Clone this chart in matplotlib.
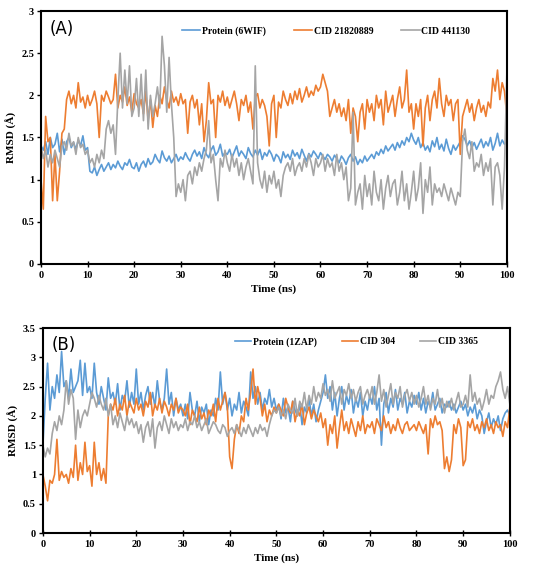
import numpy as np
import matplotlib.pyplot as plt

# time axis, 0.5 ns steps
time_ns = np.arange(0, 100.5, 0.5)

# Panel A
prot_6wif = [
    1.40, 1.35, 1.45, 1.30, 1.50, 1.38, 1.42, 1.55, 1.33, 1.48, 1.30, 1.45, 1.50, 1.38, 1.44, 1.36, 1.47, 1.40, 1.52, 1.35,
    1.38, 1.10, 1.08, 1.15, 1.05, 1.12, 1.18, 1.10, 1.15, 1.20, 1.12, 1.18, 1.14, 1.22, 1.16, 1.12, 1.20, 1.17, 1.24, 1.15,
    1.13, 1.20, 1.10, 1.18, 1.22, 1.15, 1.25, 1.18, 1.21, 1.30, 1.24, 1.20, 1.34, 1.26, 1.22, 1.28, 1.20, 1.25, 1.30, 1.22,
    1.27, 1.24, 1.32, 1.26, 1.22, 1.30, 1.35, 1.28, 1.33, 1.25, 1.38, 1.30, 1.26, 1.35, 1.40, 1.29, 1.33, 1.42, 1.28, 1.32,
    1.30, 1.36, 1.26, 1.33, 1.40, 1.28, 1.34, 1.30, 1.25, 1.38, 1.31, 1.27, 1.35, 1.29, 1.36, 1.24, 1.32, 1.28, 1.35, 1.30,
    1.22, 1.30, 1.27, 1.20, 1.33, 1.26, 1.30, 1.24, 1.35, 1.28, 1.32, 1.25, 1.36, 1.29, 1.22, 1.31, 1.27, 1.34, 1.30, 1.25,
    1.32, 1.28, 1.24, 1.30, 1.27, 1.22, 1.29, 1.25, 1.20, 1.28, 1.24, 1.18, 1.26, 1.30, 1.22, 1.27, 1.18, 1.24, 1.20, 1.28,
    1.22, 1.26, 1.30, 1.25, 1.33, 1.29, 1.36, 1.31, 1.40, 1.34, 1.38, 1.42, 1.35, 1.44, 1.38, 1.46, 1.41, 1.50, 1.45, 1.55,
    1.47, 1.42, 1.50, 1.38, 1.44, 1.35, 1.40, 1.33, 1.46, 1.39, 1.50, 1.36, 1.42, 1.34, 1.48, 1.37, 1.30, 1.41, 1.35, 1.40,
    1.45, 1.52, 1.48, 1.40, 1.46, 1.38, 1.44, 1.36, 1.42, 1.48, 1.38, 1.45, 1.40, 1.50, 1.35, 1.43, 1.55, 1.40, 1.47, 1.42,
    1.45]

cid_21820889 = [
    1.00, 0.65, 1.75, 1.45, 1.50, 0.75, 1.30, 0.75, 1.10, 1.55, 1.60, 1.95, 2.05, 1.90, 2.00, 1.85, 2.15, 1.92, 1.98, 1.85,
    2.00, 1.88, 1.95, 2.05, 1.90, 1.50, 2.00, 1.93, 2.05, 1.98, 1.90, 1.95, 2.25, 1.85, 2.00, 1.92, 2.10, 1.88, 1.98, 1.80,
    2.02, 1.90, 1.85, 1.95, 1.78, 2.05, 1.70, 1.95, 1.62, 1.88, 1.75, 2.00, 1.90, 2.10, 1.95, 1.85, 2.05, 1.92, 1.98, 1.88,
    2.02, 1.90, 1.95, 1.55, 1.92, 2.00, 1.85, 1.95, 1.65, 1.90, 1.45, 1.70, 2.15, 1.90, 1.95, 1.50, 2.00, 1.92, 2.05, 1.88,
    1.98, 1.85, 1.95, 2.05, 1.90, 1.70, 1.95, 1.88, 2.00, 1.80, 1.92, 1.60, 1.98, 2.02, 1.85, 1.95, 1.88, 1.75, 1.40, 1.90,
    2.00, 1.50, 1.92, 1.85, 2.05, 1.95, 1.88, 2.02, 1.90, 2.05, 1.95, 2.08, 1.92, 2.00, 2.10, 1.98, 2.05, 2.00, 2.12, 2.05,
    2.10, 2.25, 2.15, 2.05, 1.75, 1.85, 1.95, 1.80, 1.90, 1.75, 1.85, 1.70, 1.95, 1.55, 1.85, 1.75, 1.45, 1.80, 1.90, 1.60,
    1.95, 1.80, 1.90, 1.70, 2.00, 1.85, 1.95, 1.65, 2.05, 1.80, 1.90, 2.00, 1.75, 1.95, 2.10, 1.85, 1.95, 2.30, 1.80, 1.90,
    1.60, 1.90, 1.75, 1.95, 1.40, 1.85, 2.00, 1.70, 1.95, 2.05, 1.85, 2.20, 1.90, 1.75, 2.00, 1.88, 1.95, 1.70, 1.90, 1.95,
    1.30, 1.75, 1.85, 1.95, 1.80, 1.90, 1.70, 1.85, 1.95, 1.80, 1.88, 1.75, 1.92, 1.85, 2.20, 2.05, 2.30, 1.95, 2.15, 2.05,
    1.75]

cid_441130 = [
    1.40, 1.25, 1.35, 1.15, 1.30, 1.20, 1.35, 1.25, 1.15, 1.40, 1.45, 1.35, 1.55, 1.40, 1.45, 1.30, 1.50, 1.38, 1.42, 1.30,
    1.35, 1.20, 1.25, 1.15, 1.30, 1.20, 1.35, 1.25, 1.60, 1.70, 1.55, 1.65, 1.30, 1.95, 2.50, 1.85, 2.30, 1.90, 2.35, 1.75,
    1.85, 2.20, 1.75, 2.25, 1.70, 2.30, 1.60, 2.00, 1.75, 1.90, 2.10, 1.85, 2.70, 2.35, 1.80, 2.45, 1.90, 1.50, 0.80, 0.95,
    0.85, 1.00, 0.75, 1.05, 1.10, 0.95, 1.15, 1.05, 1.20, 1.10, 1.25, 1.35, 1.70, 1.20, 1.30, 1.00, 0.75, 1.25, 1.15, 1.35,
    1.20, 1.10, 1.30, 1.15, 1.25, 1.05, 1.20, 1.00, 1.15, 1.25, 1.10, 0.95, 2.35, 1.20, 1.00, 0.90, 1.10, 0.85, 1.05, 0.95,
    1.10, 0.90, 1.00, 0.80, 1.05, 1.15, 1.20, 1.10, 1.25, 1.05, 1.15, 1.20, 1.10, 1.25, 1.15, 1.30, 1.20, 1.05, 1.25, 1.15,
    1.20, 1.30, 1.10, 1.25, 1.15, 1.20, 1.05, 1.30, 1.10, 1.20, 1.00, 1.15, 0.75, 0.90, 1.80, 0.70, 0.85, 0.95, 0.65, 1.05,
    0.80, 0.95, 0.70, 1.10, 0.85, 0.75, 1.00, 0.65, 0.90, 1.05, 0.80, 0.95, 1.00, 0.70, 0.85, 1.10, 0.75, 0.95, 0.65, 0.85,
    1.10, 0.75, 0.90, 1.20, 0.60, 1.00, 0.85, 1.15, 0.70, 0.95, 0.85, 0.90, 0.80, 0.95, 0.85, 0.75, 0.90, 0.80, 0.70, 0.85,
    0.80, 1.45, 1.60, 1.35, 1.25, 1.45, 1.10, 1.20, 1.15, 1.30, 1.05, 1.20, 1.10, 1.25, 0.70, 1.15, 1.20, 1.05, 0.65, 1.15,
    2.25]

# Panel B
prot_1zap = [
    1.50, 2.30, 2.90, 2.10, 2.50, 2.30, 2.70, 2.40, 3.10, 2.50, 2.60, 2.30, 2.80, 2.40, 2.50, 2.60, 2.95, 2.35, 2.90, 2.40,
    2.50, 2.30, 2.90, 2.40, 2.20, 2.50, 2.30, 2.10, 2.65, 2.30, 2.40, 2.20, 2.55, 2.10, 2.35, 2.25, 2.60, 2.15, 2.40, 2.20,
    2.80, 2.20, 2.40, 2.10, 2.35, 2.50, 2.20, 2.40, 2.15, 2.60, 2.25, 2.10, 2.30, 2.80, 2.20, 2.40, 2.00, 2.30, 2.10, 2.20,
    2.00, 2.20, 1.95, 2.40, 2.10, 2.00, 2.25, 1.90, 2.15, 2.05, 2.20, 1.85, 2.10, 2.00, 2.30, 2.10, 2.75, 2.20, 2.40, 2.10,
    2.30, 2.00, 2.20, 2.10, 2.40, 2.05, 2.25, 2.15, 2.00, 2.75, 2.30, 2.50, 2.20, 2.40, 2.10, 2.30, 2.20, 2.45, 2.15, 2.30,
    2.10, 2.20, 1.95, 2.30, 2.05, 2.15, 1.90, 2.25, 2.10, 2.00, 2.20, 1.85, 2.15, 2.05, 2.30, 2.00, 2.20, 1.90, 2.10, 2.25,
    2.40, 2.70, 2.30, 2.50, 2.10, 2.40, 2.00, 2.30, 2.50, 2.10, 2.35, 2.20, 2.45, 2.05, 2.30, 2.15, 2.40, 2.00, 2.25, 2.10,
    2.35, 2.20, 2.50, 2.10, 2.30, 1.50, 2.20, 2.40, 2.05, 2.30, 2.15, 2.45, 2.10, 2.30, 2.20, 2.40, 2.05, 2.25, 2.15, 2.35,
    2.20, 2.40, 2.10, 2.30, 2.05, 2.25, 2.15, 2.40, 2.10, 2.20, 2.30, 2.05, 2.20, 2.15, 2.25, 2.10, 2.20, 2.05, 2.15, 2.25,
    2.10, 2.20, 2.00, 2.15, 2.05, 2.20, 1.95, 2.10, 2.00, 1.70, 1.90, 2.05, 1.80, 1.95, 1.85, 2.00, 1.75, 1.95, 2.05, 2.10,
    2.00]

cid_304 = [
    1.00, 0.80, 0.55, 0.90, 0.85, 1.00, 1.60, 0.90, 1.05, 0.95, 1.00, 0.85, 1.10, 0.95, 1.50, 0.90, 1.20, 1.00, 1.55, 1.05,
    1.15, 0.80, 1.55, 1.00, 1.20, 0.90, 1.10, 0.85, 2.00, 2.20, 2.10, 2.30, 2.00, 2.20, 2.10, 2.35, 2.00, 2.25, 2.15, 2.05,
    2.30, 2.10, 2.20, 2.00, 2.25, 2.15, 2.40, 2.00, 2.20, 2.10, 2.30, 2.05, 2.25, 2.15, 2.00, 2.20, 2.10, 2.30, 2.05, 2.15,
    2.10, 2.00, 2.20, 1.85, 2.10, 2.00, 1.90, 2.15, 1.95, 2.05, 1.85, 2.10, 2.00, 2.20, 1.90, 2.30, 2.10, 2.25, 2.40, 2.15,
    1.30, 1.10, 1.60, 1.85, 1.70, 2.00, 1.90, 2.30, 2.10, 2.40, 2.80, 2.20, 2.50, 2.30, 2.00, 2.20, 1.90, 2.10, 2.00, 2.15,
    2.05, 2.20, 2.10, 2.00, 2.30, 2.15, 2.05, 2.25, 1.90, 2.10, 2.00, 2.20, 1.85, 2.05, 2.15, 1.95, 2.10, 2.00, 1.90, 2.05,
    1.80, 1.95, 1.50, 1.85, 1.70, 2.00, 1.45, 1.80, 2.10, 1.75, 1.90, 1.70, 1.95, 1.80, 1.65, 1.90, 1.75, 2.00, 1.70, 1.85,
    1.80, 1.90, 1.70, 1.95, 1.85, 1.75, 2.00, 1.80, 1.90, 1.70, 1.85, 1.75, 1.95, 1.80, 1.70, 1.85, 1.90, 1.75, 1.80, 1.85,
    1.75, 1.90, 1.80, 1.70, 1.85, 1.35, 1.95, 1.80, 2.00, 1.85, 1.90, 1.75, 1.10, 1.30, 1.05, 1.25, 1.85, 1.70, 1.95, 1.80,
    1.15, 1.25, 1.90, 1.80, 1.95, 1.75, 1.85, 1.70, 1.90, 1.80, 1.95, 1.75, 1.85, 1.70, 1.90, 1.80, 1.85, 1.65, 1.90, 1.80,
    2.15]

cid_3365 = [
    1.50, 1.30, 1.45, 1.35, 1.70, 1.90, 1.75, 2.00, 1.85, 2.10, 2.60, 2.20, 2.45, 2.30, 1.60, 2.10, 1.80, 2.00, 2.10, 2.00,
    2.20, 2.40, 2.30, 2.15, 2.35, 2.20, 2.10, 2.30, 2.00, 2.20, 1.85, 2.00, 1.80, 2.05, 1.90, 1.75, 2.00, 1.85, 1.95, 1.80,
    1.90, 1.70, 1.85, 1.55, 1.80, 1.90, 1.65, 1.95, 1.45, 1.80, 1.90, 1.75, 2.00, 1.85, 1.70, 1.95, 1.80, 1.90, 1.75, 1.85,
    1.80, 1.95, 1.75, 1.90, 1.85, 2.00, 1.80, 1.90, 1.75, 1.85, 1.95, 1.70, 1.80, 1.90, 1.85, 1.75, 1.70, 1.85, 1.80, 1.65,
    1.75, 1.80, 1.70, 1.85, 1.75, 1.65, 1.80, 1.70, 1.85, 1.75, 1.65, 1.80, 1.70, 1.85, 1.75, 1.80, 1.65, 1.85, 2.00, 2.10,
    2.05, 2.15, 2.00, 2.10, 1.95, 2.20, 2.10, 2.05, 2.30, 2.00, 2.25, 2.15, 2.40, 2.10, 2.35, 2.20, 2.50, 2.25, 2.40, 2.30,
    2.55, 2.35, 2.45, 2.25, 2.60, 2.30, 2.40, 2.50, 2.20, 2.45, 2.35, 2.55, 2.30, 2.45, 2.25, 2.40, 2.50, 2.20, 2.35, 2.45,
    2.30, 2.50, 2.20, 2.40, 2.70, 2.25, 2.45, 2.15, 2.35, 2.55, 2.20, 2.40, 2.30, 2.50, 2.15, 2.35, 2.45, 2.25, 2.40, 2.20,
    2.35, 2.15, 2.30, 2.50, 2.20, 2.35, 2.10, 2.30, 2.20, 2.45, 2.15, 2.30, 2.05, 2.25, 2.15, 2.30, 2.10, 2.25, 2.40, 2.15,
    2.20, 2.35, 2.15, 2.70, 2.25, 2.40, 2.20, 2.30, 2.10, 2.25, 2.45, 2.20, 2.35, 2.30, 2.50, 2.60, 2.75, 2.45, 2.30, 2.50,
    2.20]

blue = '#5B9BD5'
orange = '#ED7D31'
gray = '#A5A5A5'
serif = 'Liberation Serif'

fig = plt.figure(figsize=(5.5, 5.71), dpi=100)
ax_a = fig.add_axes([0.0745, 0.5377, 0.847, 0.443])
ax_b = fig.add_axes([0.078, 0.0665, 0.849, 0.359])


def style_axes(ax, ymax, yticks, ytick_labels):
    ax.set_xlim(0, 100)
    ax.set_ylim(0, ymax)
    ax.set_xticks(range(0, 101, 10))
    ax.set_yticks(yticks)
    ax.set_yticklabels(ytick_labels)
    for sp in ax.spines.values():
        sp.set_linewidth(1.5)
        sp.set_color('black')
    ax.tick_params(axis='y', direction='out', length=3, width=1, pad=2)
    ax.tick_params(axis='x', direction='inout', length=4, width=1, pad=3)
    for lab in ax.get_xticklabels() + ax.get_yticklabels():
        lab.set_fontfamily(serif)
        lab.set_fontweight('bold')
        lab.set_fontsize(7.5)
    ax.set_xlabel('Time (ns)', fontfamily=serif, fontweight='bold', fontsize=8, labelpad=3)
    ax.set_ylabel('RMSD (Å)', fontfamily=serif, fontweight='bold', fontsize=8, labelpad=3)


# (A)
ax_a.plot(time_ns, prot_6wif, color=blue, lw=1.2, label='Protein (6WIF)')
ax_a.plot(time_ns, cid_21820889, color=orange, lw=1.2, label='CID 21820889')
ax_a.plot(time_ns, cid_441130, color=gray, lw=1.2, label='CID 441130')
style_axes(ax_a, 3, [0, 0.5, 1, 1.5, 2, 2.5, 3], ['0', '0.5', '1', '1.5', '2', '2.5', '3'])
ax_a.text(0.018, 0.965, '(A)', transform=ax_a.transAxes, fontsize=12, fontfamily='DejaVu Sans',
          va='top', ha='left')
ax_a.legend(loc='upper right', bbox_to_anchor=(0.93, 0.955), ncol=3, frameon=False,
            prop={'family': serif, 'weight': 'bold', 'size': 7},
            handlelength=1.9, handletextpad=0.15, columnspacing=2.9, borderaxespad=0)

# (B)
ax_b.plot(time_ns, prot_1zap, color=blue, lw=1.2, label='Protein (1ZAP)')
ax_b.plot(time_ns, cid_304, color=orange, lw=1.2, label='CID 304')
ax_b.plot(time_ns, cid_3365, color=gray, lw=1.2, label='CID 3365')
style_axes(ax_b, 3.5, [0, 0.5, 1, 1.5, 2, 2.5, 3, 3.5], ['0', '0.5', '1', '1.5', '2', '2.5', '3', '3.5'])
ax_b.text(0.018, 0.96, '(B)', transform=ax_b.transAxes, fontsize=12, fontfamily='DejaVu Sans',
          va='top', ha='left')
ax_b.legend(loc='upper right', bbox_to_anchor=(0.94, 0.975), ncol=3, frameon=False,
            prop={'family': serif, 'weight': 'bold', 'size': 7},
            handlelength=1.7, handletextpad=0.15, columnspacing=2.6, borderaxespad=0)

fig.savefig('out.png', dpi=100)
